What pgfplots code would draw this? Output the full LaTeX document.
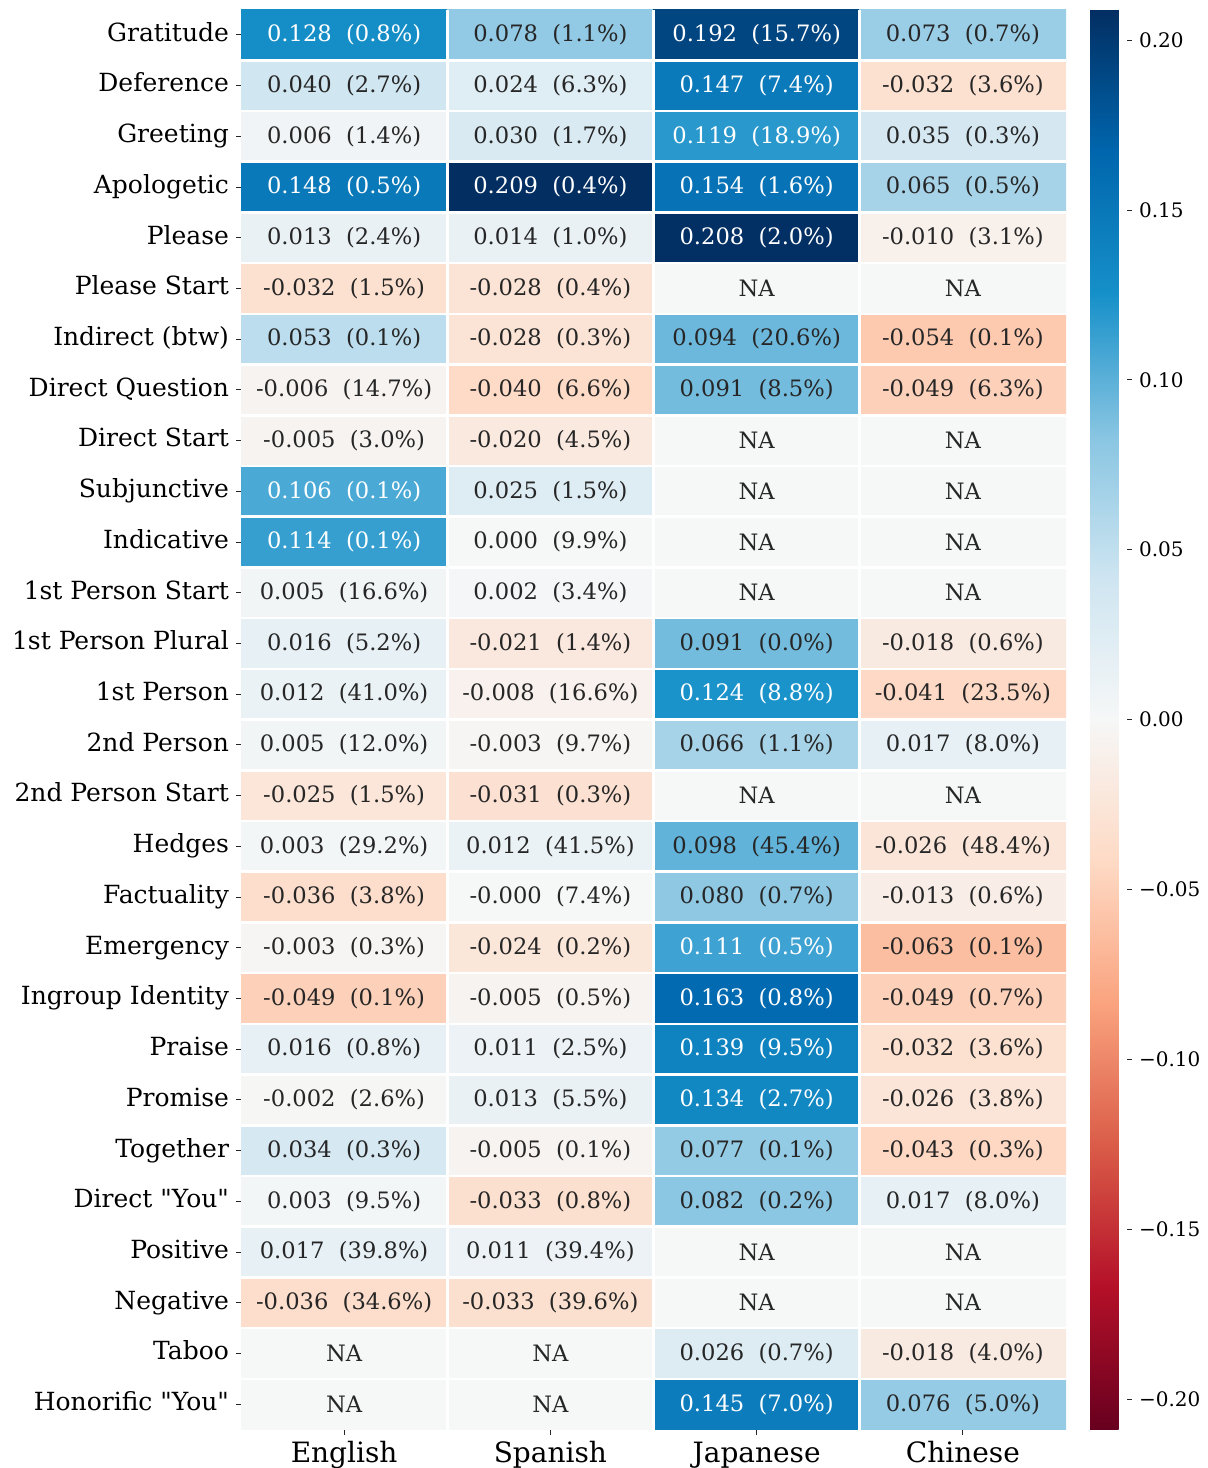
\documentclass[border=0pt]{standalone}
\usepackage{fontspec}
\setmainfont{DejaVu Serif}
\usepackage{pgfplots}
\pgfplotsset{compat=1.18}
\pgfplotsset{colormap={RdBuS}{rgb255=(103,0,31) rgb255=(180,16,40) rgb255=(218,92,72) rgb255=(250,163,126) rgb255=(254,218,197) rgb255=(246,247,247) rgb255=(206,229,241) rgb255=(136,197,226) rgb255=(22,144,201) rgb255=(0,102,173) rgb255=(2,46,98)}}
\definecolor{txt}{HTML}{262626}
\newcommand\cellfont{\fontsize{11.3}{13}\selectfont}
\begin{document}
\begin{tikzpicture}
\path[use as bounding box] (0,0) rectangle (603.5pt,-734pt);
\begin{axis}[
  at={(120.5pt,-4.75pt)}, anchor=north west,
  width=412.5pt, height=710pt, scale only axis,
  xmin=-0.5, xmax=3.5, ymin=-0.5, ymax=27.5, y dir=reverse,
  colormap name=RdBuS, point meta min=-0.209, point meta max=0.209,
  xtick={0,1,2,3}, xticklabels={English,Spanish,Japanese,Chinese},
  ytick={0,...,27},
  yticklabels={Gratitude,Deference,Greeting,Apologetic,Please,Please Start,Indirect (btw),Direct Question,Direct Start,Subjunctive,Indicative,1st Person Start,1st Person Plural,1st Person,2nd Person,2nd Person Start,Hedges,Factuality,Emergency,Ingroup Identity,Praise,Promise,Together,Direct \textquotedbl You\textquotedbl,Positive,Negative,Taboo,Honorific \textquotedbl You\textquotedbl},
  tick align=outside, major tick length=2.5pt,
  xtick pos=bottom, ytick pos=left,
  tick style={txt, line width=0.4pt},
  axis line style={draw=none},
  xticklabel style={font=\fontsize{14}{16}\selectfont, black},
  yticklabel style={font=\fontsize{12.5}{14}\selectfont, black, anchor=base east, yshift=-3.2pt},
  minor xtick={0.5,1.5,2.5}, minor ytick={0.5,1.5,...,26.5},
  minor tick length=0pt, grid=minor,
  minor grid style={white, line width=1.3pt},
  axis on top,
  colorbar right,
  colorbar style={
    at={(parent axis.north east)}, anchor=north west, xshift=3.5pt,
    width=18.5pt, height=710pt,
    ytick={-0.2,-0.15,-0.1,-0.05,0,0.05,0.1,0.15,0.2},
    yticklabels={−0.20,−0.15,−0.10,−0.05,0.00,0.05,0.10,0.15,0.20},
    yticklabel style={font=\fontsize{10}{12}\selectfont, black},
    axis line style={draw=none}, ytick pos=right,
    tick style={txt, line width=0.4pt}, major tick length=2.5pt, tick align=outside,
  },
]
\addplot[matrix plot*, mesh/cols=4, mesh/rows=28, point meta=explicit] coordinates {
(0,0)[0.128] (1,0)[0.078] (2,0)[0.192] (3,0)[0.073]
(0,1)[0.040] (1,1)[0.024] (2,1)[0.147] (3,1)[-0.032]
(0,2)[0.006] (1,2)[0.030] (2,2)[0.119] (3,2)[0.035]
(0,3)[0.148] (1,3)[0.209] (2,3)[0.154] (3,3)[0.065]
(0,4)[0.013] (1,4)[0.014] (2,4)[0.208] (3,4)[-0.010]
(0,5)[-0.032] (1,5)[-0.028] (2,5)[0] (3,5)[0]
(0,6)[0.053] (1,6)[-0.028] (2,6)[0.094] (3,6)[-0.054]
(0,7)[-0.006] (1,7)[-0.040] (2,7)[0.091] (3,7)[-0.049]
(0,8)[-0.005] (1,8)[-0.020] (2,8)[0] (3,8)[0]
(0,9)[0.106] (1,9)[0.025] (2,9)[0] (3,9)[0]
(0,10)[0.114] (1,10)[0.000] (2,10)[0] (3,10)[0]
(0,11)[0.005] (1,11)[0.002] (2,11)[0] (3,11)[0]
(0,12)[0.016] (1,12)[-0.021] (2,12)[0.091] (3,12)[-0.018]
(0,13)[0.012] (1,13)[-0.008] (2,13)[0.124] (3,13)[-0.041]
(0,14)[0.005] (1,14)[-0.003] (2,14)[0.066] (3,14)[0.017]
(0,15)[-0.025] (1,15)[-0.031] (2,15)[0] (3,15)[0]
(0,16)[0.003] (1,16)[0.012] (2,16)[0.098] (3,16)[-0.026]
(0,17)[-0.036] (1,17)[-0.000] (2,17)[0.080] (3,17)[-0.013]
(0,18)[-0.003] (1,18)[-0.024] (2,18)[0.111] (3,18)[-0.063]
(0,19)[-0.049] (1,19)[-0.005] (2,19)[0.163] (3,19)[-0.049]
(0,20)[0.016] (1,20)[0.011] (2,20)[0.139] (3,20)[-0.032]
(0,21)[-0.002] (1,21)[0.013] (2,21)[0.134] (3,21)[-0.026]
(0,22)[0.034] (1,22)[-0.005] (2,22)[0.077] (3,22)[-0.043]
(0,23)[0.003] (1,23)[-0.033] (2,23)[0.082] (3,23)[0.017]
(0,24)[0.017] (1,24)[0.011] (2,24)[0] (3,24)[0]
(0,25)[-0.036] (1,25)[-0.033] (2,25)[0] (3,25)[0]
(0,26)[0] (1,26)[0] (2,26)[0.026] (3,26)[-0.018]
(0,27)[0] (1,27)[0] (2,27)[0.145] (3,27)[0.076]
};
% dark labels
\addplot[only marks, mark=none, point meta=explicit symbolic, nodes near coords, nodes near coords align=center,
  every node near coord/.append style={font=\cellfont, text=txt, anchor=center}] coordinates {
(1,0)[0.078\ \ (1.1\%)] (3,0)[0.073\ \ (0.7\%)]
(0,1)[0.040\ \ (2.7\%)] (1,1)[0.024\ \ (6.3\%)] (3,1)[-0.032\ \ (3.6\%)]
(0,2)[0.006\ \ (1.4\%)] (1,2)[0.030\ \ (1.7\%)] (3,2)[0.035\ \ (0.3\%)]
(3,3)[0.065\ \ (0.5\%)]
(0,4)[0.013\ \ (2.4\%)] (1,4)[0.014\ \ (1.0\%)] (3,4)[-0.010\ \ (3.1\%)]
(0,5)[-0.032\ \ (1.5\%)] (1,5)[-0.028\ \ (0.4\%)] (2,5)[NA] (3,5)[NA]
(0,6)[0.053\ \ (0.1\%)] (1,6)[-0.028\ \ (0.3\%)] (2,6)[0.094\ \ (20.6\%)] (3,6)[-0.054\ \ (0.1\%)]
(0,7)[-0.006\ \ (14.7\%)] (1,7)[-0.040\ \ (6.6\%)] (2,7)[0.091\ \ (8.5\%)] (3,7)[-0.049\ \ (6.3\%)]
(0,8)[-0.005\ \ (3.0\%)] (1,8)[-0.020\ \ (4.5\%)] (2,8)[NA] (3,8)[NA]
(1,9)[0.025\ \ (1.5\%)] (2,9)[NA] (3,9)[NA]
(1,10)[0.000\ \ (9.9\%)] (2,10)[NA] (3,10)[NA]
(0,11)[0.005\ \ (16.6\%)] (1,11)[0.002\ \ (3.4\%)] (2,11)[NA] (3,11)[NA]
(0,12)[0.016\ \ (5.2\%)] (1,12)[-0.021\ \ (1.4\%)] (2,12)[0.091\ \ (0.0\%)] (3,12)[-0.018\ \ (0.6\%)]
(0,13)[0.012\ \ (41.0\%)] (1,13)[-0.008\ \ (16.6\%)] (3,13)[-0.041\ \ (23.5\%)]
(0,14)[0.005\ \ (12.0\%)] (1,14)[-0.003\ \ (9.7\%)] (2,14)[0.066\ \ (1.1\%)] (3,14)[0.017\ \ (8.0\%)]
(0,15)[-0.025\ \ (1.5\%)] (1,15)[-0.031\ \ (0.3\%)] (2,15)[NA] (3,15)[NA]
(0,16)[0.003\ \ (29.2\%)] (1,16)[0.012\ \ (41.5\%)] (2,16)[0.098\ \ (45.4\%)] (3,16)[-0.026\ \ (48.4\%)]
(0,17)[-0.036\ \ (3.8\%)] (1,17)[-0.000\ \ (7.4\%)] (2,17)[0.080\ \ (0.7\%)] (3,17)[-0.013\ \ (0.6\%)]
(0,18)[-0.003\ \ (0.3\%)] (1,18)[-0.024\ \ (0.2\%)] (3,18)[-0.063\ \ (0.1\%)]
(0,19)[-0.049\ \ (0.1\%)] (1,19)[-0.005\ \ (0.5\%)] (3,19)[-0.049\ \ (0.7\%)]
(0,20)[0.016\ \ (0.8\%)] (1,20)[0.011\ \ (2.5\%)] (3,20)[-0.032\ \ (3.6\%)]
(0,21)[-0.002\ \ (2.6\%)] (1,21)[0.013\ \ (5.5\%)] (3,21)[-0.026\ \ (3.8\%)]
(0,22)[0.034\ \ (0.3\%)] (1,22)[-0.005\ \ (0.1\%)] (2,22)[0.077\ \ (0.1\%)] (3,22)[-0.043\ \ (0.3\%)]
(0,23)[0.003\ \ (9.5\%)] (1,23)[-0.033\ \ (0.8\%)] (2,23)[0.082\ \ (0.2\%)] (3,23)[0.017\ \ (8.0\%)]
(0,24)[0.017\ \ (39.8\%)] (1,24)[0.011\ \ (39.4\%)] (2,24)[NA] (3,24)[NA]
(0,25)[-0.036\ \ (34.6\%)] (1,25)[-0.033\ \ (39.6\%)] (2,25)[NA] (3,25)[NA]
(0,26)[NA] (1,26)[NA] (2,26)[0.026\ \ (0.7\%)] (3,26)[-0.018\ \ (4.0\%)]
(0,27)[NA] (1,27)[NA] (3,27)[0.076\ \ (5.0\%)]
};
% white labels
\addplot[only marks, mark=none, point meta=explicit symbolic, nodes near coords, nodes near coords align=center,
  every node near coord/.append style={font=\cellfont, text=white, anchor=center}] coordinates {
(0,0)[0.128\ \ (0.8\%)] (2,0)[0.192\ \ (15.7\%)]
(2,1)[0.147\ \ (7.4\%)] (2,2)[0.119\ \ (18.9\%)]
(0,3)[0.148\ \ (0.5\%)] (1,3)[0.209\ \ (0.4\%)] (2,3)[0.154\ \ (1.6\%)]
(2,4)[0.208\ \ (2.0\%)]
(0,9)[0.106\ \ (0.1\%)] (0,10)[0.114\ \ (0.1\%)]
(2,13)[0.124\ \ (8.8\%)] (2,18)[0.111\ \ (0.5\%)] (2,19)[0.163\ \ (0.8\%)]
(2,20)[0.139\ \ (9.5\%)] (2,21)[0.134\ \ (2.7\%)] (2,27)[0.145\ \ (7.0\%)]
};
\end{axis}
\end{tikzpicture}
\end{document}
